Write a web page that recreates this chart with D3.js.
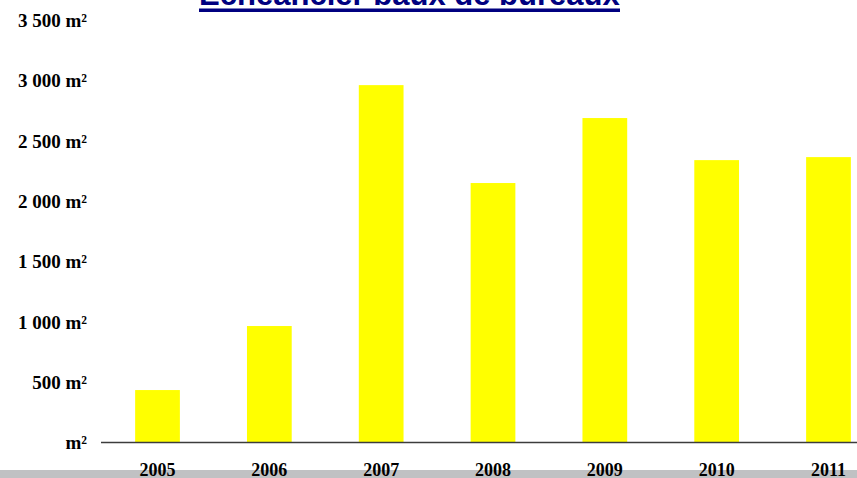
<!DOCTYPE html>
<html>
<head>
<meta charset="utf-8">
<script src="https://cdn.jsdelivr.net/npm/d3@7"></script>
<style>
  html, body { margin: 0; padding: 0; background: #fff; overflow: hidden; }
</style>
</head>
<body>
<div id="chart"></div>
<script>
const years = ['2005', '2006', '2007', '2008', '2009', '2010', '2011'];
const surfaces = [435, 966, 2964, 2152, 2691, 2342, 2367];
const yTicks = [0, 500, 1000, 1500, 2000, 2500, 3000, 3500];
const title = 'Echéancier baux de bureaux';

const width = 857;
const height = 478;

const svg = d3.select('#chart')
    .append('svg')
    .attr('width', width)
    .attr('height', height);

// grey strip along the bottom edge
svg.append('rect')
    .attr('x', 0)
    .attr('y', 470)
    .attr('width', width)
    .attr('height', 8)
    .attr('fill', '#c0c1c3');

const xScale = d3.scaleBand()
    .domain(years)
    .range([101.6, 884.4])
    .paddingInner(0.6)
    .paddingOuter(0.3);

const yScale = d3.scaleLinear()
    .domain([0, 3500])
    .range([442.5, 20.5]);

svg.selectAll('.bar')
    .data(years)
    .enter()
    .append('rect')
    .classed('bar', true)
    .attr('x', d => xScale(d))
    .attr('y', (d, i) => yScale(surfaces[i]))
    .attr('width', xScale.bandwidth())
    .attr('height', (d, i) => yScale(0) - yScale(surfaces[i]))
    .attr('fill', '#ffff00');

// baseline
svg.append('line')
    .attr('x1', 101)
    .attr('x2', width)
    .attr('y1', yScale(0))
    .attr('y2', yScale(0))
    .attr('stroke', '#3c3c3c')
    .attr('stroke-width', 1.6);

const fmt = v => v === 0 ? 'm²' : d3.format(',')(v).replace(',', ' ') + ' m²';

const yAxis = d3.axisLeft(yScale)
    .tickValues(yTicks)
    .tickSize(0)
    .tickPadding(0)
    .tickFormat(fmt);

const yg = svg.append('g')
    .attr('transform', 'translate(87,0)')
    .call(yAxis);
yg.select('.domain').remove();
yg.selectAll('text')
    .attr('dy', '0.32em')
    .attr('fill', '#000')
    .style('font-family', '"Liberation Serif", "Times New Roman", serif')
    .style('font-weight', 'bold')
    .style('font-size', '19px');

const xAxis = d3.axisBottom(xScale)
    .tickSize(0)
    .tickPadding(0);

const xg = svg.append('g')
    .attr('transform', 'translate(0,463)')
    .call(xAxis);
xg.select('.domain').remove();
xg.selectAll('text')
    .attr('dy', '0.71em')
    .attr('fill', '#000')
    .style('font-family', '"Liberation Serif", "Times New Roman", serif')
    .style('font-weight', 'bold')
    .style('font-size', '18px');

// title, mostly cut off by the top edge
const t = svg.append('text')
    .attr('x', 199)
    .attr('y', 5)
    .attr('fill', '#000080')
    .style('font-family', '"Liberation Sans", Arial, sans-serif')
    .style('font-weight', 'bold')
    .style('font-size', '30px')
    .text(title);
const w = t.node().getComputedTextLength();
t.style('font-size', (30 * 421 / w) + 'px');

svg.append('rect')
    .attr('x', 199)
    .attr('y', 8.5)
    .attr('width', 421)
    .attr('height', 3.5)
    .attr('fill', '#000080');
</script>
</body>
</html>
